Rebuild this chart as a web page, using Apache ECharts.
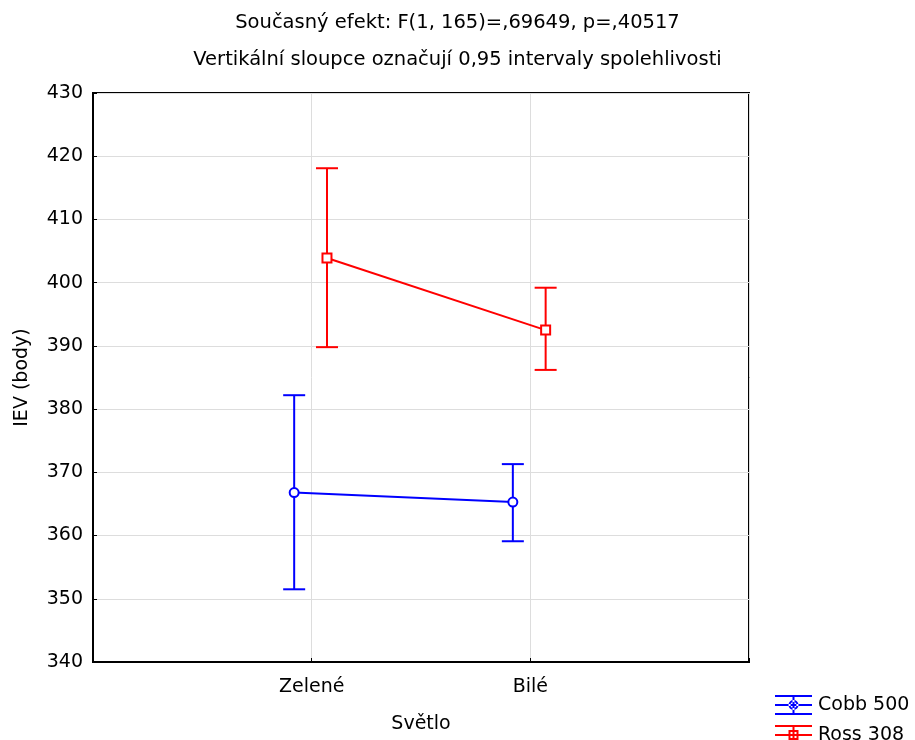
<!DOCTYPE html>
<html>
<head>
<meta charset="utf-8">
<script src="https://cdn.jsdelivr.net/npm/echarts@6/dist/echarts.min.js"></script>
<style>
  html, body { margin: 0; padding: 0; background: #fff; }
  #chart { width: 915px; height: 740px; }
</style>
</head>
<body>
<div id="chart"></div>
<script>
// kategorie na ose X (pozice 1, 2 na ose 0..3)
const categories = ['Zelené', 'Bilé'];
const seriesNames = ['Cobb 500', 'Ross 308'];

// průměry a 0,95 intervaly spolehlivosti
const cobbMean = [366.8, 365.3];
const cobbLow = [351.5, 359.1];
const cobbHigh = [382.2, 371.3];
const rossMean = [403.9, 392.5];
const rossLow = [389.8, 386.2];
const rossHigh = [418.1, 399.2];

const yMin = 340, yMax = 430, yStep = 10;

const FONT = 'DejaVu Sans';
const BLUE = '#0000ff', RED = '#ff0000';
// posun skupin vedle sebe
const cobbShift = -0.08, rossShift = 0.07;

const chart = echarts.init(document.getElementById('chart'));

function pts(means, shift) {
  return means.map((v, i) => [i + 1 + shift, v]);
}
function bars(lows, highs, shift) {
  return lows.map((v, i) => [i + 1 + shift, v, highs[i]]);
}

function errorBar(color) {
  return function (params, api) {
    const x = api.value(0);
    const lo = api.coord([x, api.value(1)]);
    const hi = api.coord([x, api.value(2)]);
    const w = 11;
    const style = { stroke: color, lineWidth: 2 };
    return {
      type: 'group',
      children: [
        { type: 'line', shape: { x1: lo[0], y1: lo[1], x2: hi[0], y2: hi[1] }, style: style },
        { type: 'line', shape: { x1: lo[0] - w, y1: lo[1], x2: lo[0] + w, y2: lo[1] }, style: style },
        { type: 'line', shape: { x1: hi[0] - w, y1: hi[1], x2: hi[0] + w, y2: hi[1] }, style: style }
      ]
    };
  };
}

// ikonky legendy: tři vodorovné čárky, svislá čárka a značka
const bars3 = 'M0 0 H37 V2 H0 Z M0 9 H37 V11 H0 Z M0 18 H37 V20 H0 Z M17.5 0 H19.5 V20 H17.5 Z ';
const iconCobb = 'path://' + bars3 + 'M18.5 5 A5 5 0 1 0 18.5 15 A5 5 0 1 0 18.5 5 Z M18.5 7 A3 3 0 1 1 18.5 13 A3 3 0 1 1 18.5 7 Z';
const iconRoss = 'path://' + bars3 + 'M13.5 5 H23.5 V15 H13.5 Z M15.5 7 V13 H21.5 V7 Z';

const option = {
  backgroundColor: '#fff',
  animation: false,
  title: [
    {
      text: 'Současný efekt: F(1, 165)=,69649, p=,40517',
      left: 'center', top: 8,
      textStyle: { fontFamily: FONT, fontSize: 19.5, fontWeight: 'normal', color: '#000' }
    },
    {
      text: 'Vertikální sloupce označují 0,95 intervaly spolehlivosti',
      left: 'center', top: 45,
      textStyle: { fontFamily: FONT, fontSize: 19.5, fontWeight: 'normal', color: '#000' }
    }
  ],
  legend: {
    orient: 'vertical',
    left: 770, top: 690, height: 50,
    itemWidth: 37, itemHeight: 20, itemGap: 10,
    textStyle: { fontFamily: FONT, fontSize: 19, color: '#000', padding: [0, 0, 0, 1] },
    data: [
      { name: seriesNames[0], icon: iconCobb, itemStyle: { color: BLUE, borderWidth: 0 } },
      { name: seriesNames[1], icon: iconRoss, itemStyle: { color: RED, borderWidth: 0 } }
    ]
  },
  grid: {
    left: 93, right: 166, top: 93, bottom: 78,
    show: true, borderColor: '#000', borderWidth: 2
  },
  xAxis: {
    type: 'value', min: 0, max: 3, interval: 1,
    name: 'Světlo', nameLocation: 'middle', nameGap: 53,
    nameTextStyle: { fontFamily: FONT, fontSize: 19, color: '#000' },
    axisLine: { show: true, lineStyle: { color: '#000', width: 2 } },
    axisTick: { show: true, inside: true, length: 4, lineStyle: { color: '#000', width: 1 } },
    axisLabel: {
      margin: 16, fontFamily: FONT, fontSize: 19, color: '#000',
      formatter: v => (v >= 1 && v <= categories.length ? categories[v - 1] : '')
    },
    splitLine: { show: true, lineStyle: { color: '#dddddd', width: 1 } }
  },
  yAxis: {
    type: 'value', min: yMin, max: yMax, interval: yStep,
    name: 'IEV (body)', nameLocation: 'middle', nameGap: 61,
    nameTextStyle: { fontFamily: FONT, fontSize: 19, color: '#000' },
    axisLine: { show: true, lineStyle: { color: '#000', width: 2 } },
    axisTick: { show: true, inside: true, length: 4, lineStyle: { color: '#000', width: 1 } },
    axisLabel: { margin: 10, fontFamily: FONT, fontSize: 19, color: '#000' },
    splitLine: { show: true, lineStyle: { color: '#dddddd', width: 1 } }
  },
  series: [
    {
      name: seriesNames[0], type: 'custom', renderItem: errorBar(BLUE),
      data: bars(cobbLow, cobbHigh, cobbShift), z: 2, silent: true
    },
    {
      name: seriesNames[1], type: 'custom', renderItem: errorBar(RED),
      data: bars(rossLow, rossHigh, rossShift), z: 2, silent: true
    },
    {
      name: seriesNames[0], type: 'line', data: pts(cobbMean, cobbShift),
      symbol: 'circle', symbolSize: 9, z: 3,
      lineStyle: { color: BLUE, width: 2 },
      itemStyle: { color: '#fff', borderColor: BLUE, borderWidth: 2 }
    },
    {
      name: seriesNames[1], type: 'line', data: pts(rossMean, rossShift),
      symbol: 'rect', symbolSize: 9, z: 3,
      lineStyle: { color: RED, width: 2 },
      itemStyle: { color: '#fff', borderColor: RED, borderWidth: 2 }
    }
  ]
};

chart.setOption(option);
</script>
</body>
</html>
